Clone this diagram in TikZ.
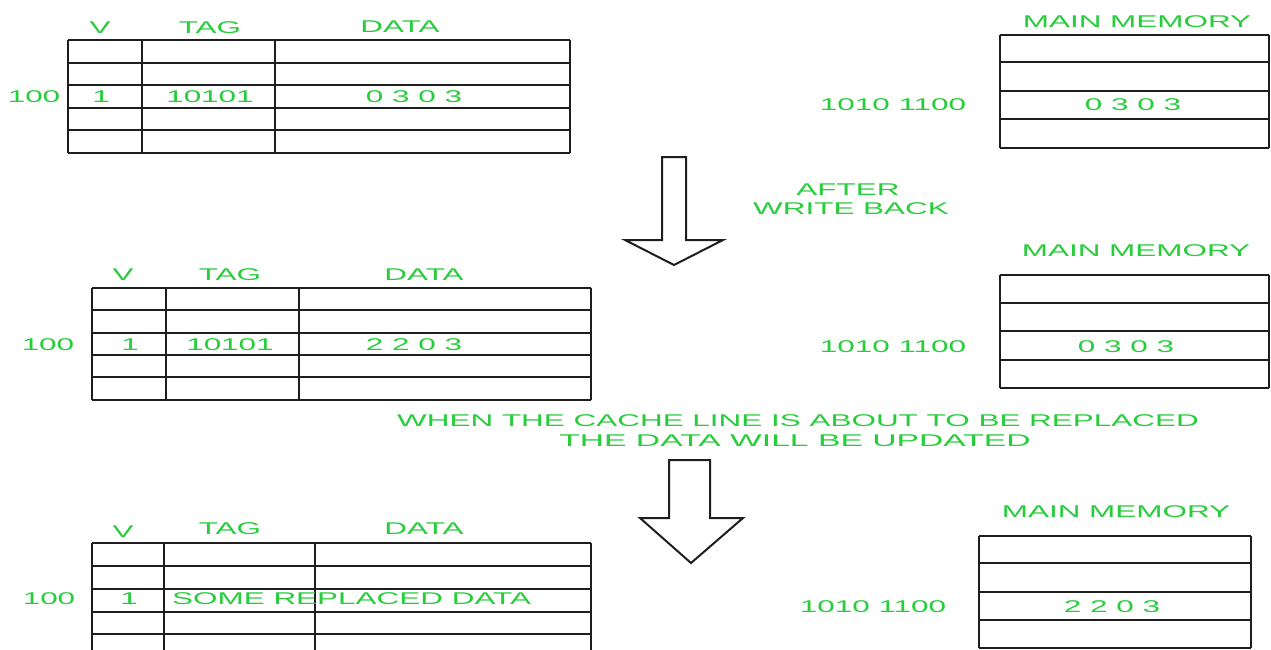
\documentclass[tikz,border=0pt]{standalone}
\usepackage{fontspec}
\newfontfamily\lblfont[FakeStretch=1.85]{Liberation Sans}
\newfontfamily\lblwidefont[FakeStretch=1.98]{Liberation Sans}
\definecolor{lblgreen}{RGB}{40,205,60}
\definecolor{gridline}{RGB}{30,30,30}
\begin{document}
\begin{tikzpicture}[x=1pt,y=-1pt,
  lbl/.style={inner sep=0pt, text=lblgreen, font=\lblfont\fontsize{17}{20}\selectfont},
  lblwide/.style={lbl, font=\lblwidefont\fontsize{17}{20}\selectfont},
  hline/.style={draw=gridline, line width=1.8pt, line cap=square},
  vline/.style={draw=gridline, line width=2.6pt, line cap=square},
  blockarrow/.style={draw=gridline, line width=2pt, fill=white, line join=miter}]
\useasboundingbox[fill=white] (0,0) rectangle (1271,650);

% ---------- cache, before write back ----------
\foreach \y in {40,63,85,108,130,153} \draw[hline] (68,\y) -- (570,\y);
\foreach \x in {68,142,275,570} \draw[vline] (\x,40) -- (\x,153);
\node[lbl] (c1v)    at (100,28) {V};
\node[lbl] (c1tag)  at (210,28) {TAG};
\node[lbl] (c1data) at (400,27) {DATA};
\node[lbl] (c1idx)  at (34,97)  {100};
\node[lbl] (c1valid) at (101,97) {1};
\node[lbl] (c1tagv) at (210,97) {10101};
\node[lbl] (c1val)  at (414,97) {0 3 0 3};

% ---------- main memory, before write back ----------
\foreach \y in {35,62,91,119,148} \draw[hline] (1000,\y) -- (1269,\y);
\foreach \x in {1000,1269} \draw[vline] (\x,35) -- (\x,148);
\node[lbl] (m1title) at (1137,22)  {MAIN MEMORY};
\node[lbl] (m1addr)  at (893,105)  {1010 1100};
\node[lbl] (m1val)   at (1133,105) {0 3 0 3};

% ---------- first step arrow ----------
\draw[blockarrow] (662,157) -- (686,157) -- (686,240) -- (723,240)
  -- (674,265) -- (625,240) -- (662,240) -- cycle;
\node[lbl] (step1a) at (848,190) {AFTER};
\node[lbl] (step1b) at (851,209) {WRITE BACK};

% ---------- cache, after write back ----------
\foreach \y in {288,310,333,355,377,400} \draw[hline] (92,\y) -- (591,\y);
\foreach \x in {92,166,299,591} \draw[vline] (\x,288) -- (\x,400);
\node[lbl] (c2v)    at (123,275) {V};
\node[lbl] (c2tag)  at (230,275) {TAG};
\node[lbl] (c2data) at (424,275) {DATA};
\node[lbl] (c2idx)  at (48,345)  {100};
\node[lbl] (c2valid) at (130,345) {1};
\node[lbl] (c2tagv) at (230,345) {10101};
\node[lbl] (c2val)  at (414,345) {2 2 0 3};

% ---------- main memory, after write back ----------
\foreach \y in {275,303,331,360,388} \draw[hline] (1000,\y) -- (1269,\y);
\foreach \x in {1000,1269} \draw[vline] (\x,275) -- (\x,388);
\node[lbl] (m2title) at (1136,251) {MAIN MEMORY};
\node[lbl] (m2addr)  at (893,347)  {1010 1100};
\node[lbl] (m2val)   at (1126,347) {0 3 0 3};

% ---------- explanation ----------
\node[lbl] (note1) at (798,421) {WHEN THE CACHE LINE IS ABOUT TO BE REPLACED};
\node[lblwide] (note2) at (795,441) {THE DATA WILL BE UPDATED};

% ---------- second step arrow ----------
\draw[blockarrow] (669,460) -- (710,460) -- (710,518) -- (743,518)
  -- (691,563) -- (640,518) -- (669,518) -- cycle;

% ---------- cache, after replacement ----------
\foreach \y in {543,566,589,612,634} \draw[hline] (92,\y) -- (591,\y);
\foreach \x in {92,164,315,591} \draw[vline] (\x,543) -- (\x,656);
\node[lbl] (c3v)    at (123,532) {V};
\node[lbl] (c3tag)  at (230,529) {TAG};
\node[lbl] (c3data) at (424,529) {DATA};
\node[lbl] (c3idx)  at (49,599)  {100};
\node[lbl] (c3valid) at (129,599) {1};
\node[lbl, anchor=west] (c3val) at (172,599) {SOME REPLACED DATA};

% ---------- main memory, after replacement ----------
\foreach \y in {536,563,592,620,648} \draw[hline] (979,\y) -- (1251,\y);
\foreach \x in {979,1251} \draw[vline] (\x,536) -- (\x,648);
\node[lbl] (m3title) at (1116,512) {MAIN MEMORY};
\node[lbl] (m3addr)  at (873,607)  {1010 1100};
\node[lbl] (m3val)   at (1112,607) {2 2 0 3};
\end{tikzpicture}
\end{document}
